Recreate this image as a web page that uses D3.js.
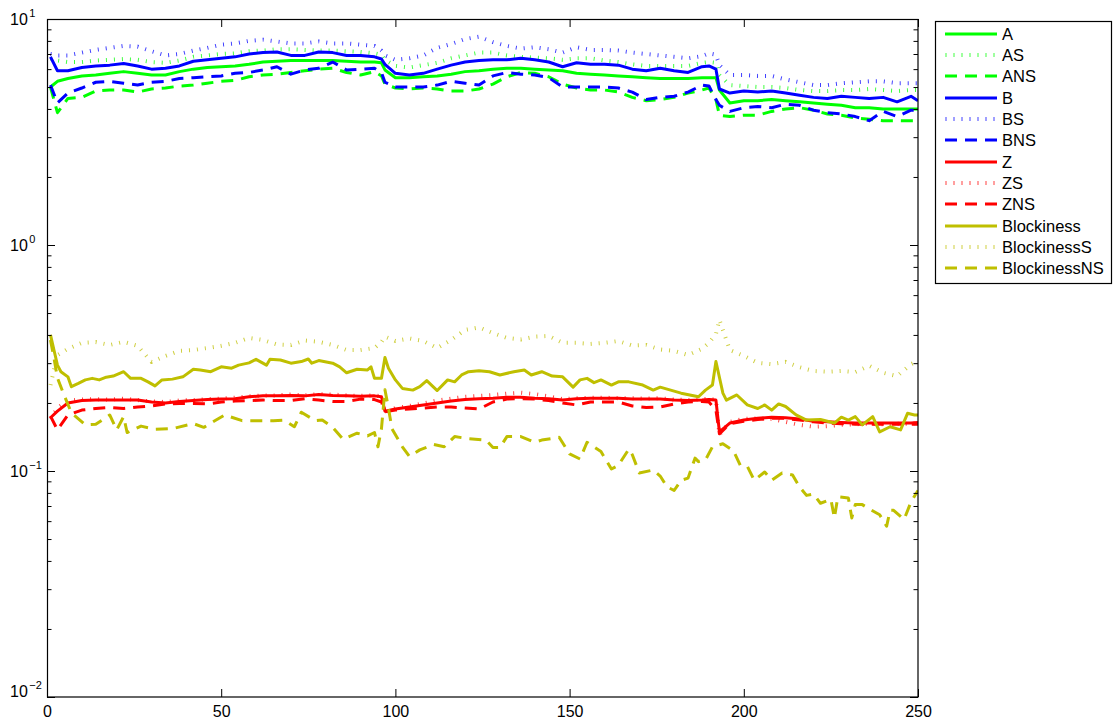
<!DOCTYPE html>
<html>
<head>
<meta charset="utf-8">
<script src="https://cdn.jsdelivr.net/npm/d3@7"></script>
<style>
  html, body { margin: 0; padding: 0; background: #fff; }
  svg { display: block; font-family: "Liberation Sans", Arial, Helvetica, sans-serif; }
</style>
</head>
<body>
<svg id="chart" width="1113" height="719"></svg>
<script>
// Frame indices shared by most measures
const frames = [1,3,6,10,14,18,22,26,30,34,38,42,46,50,54,58,62,66,70,74,78,82,86,90,94,
  96,97,
  100,104,108,112,116,120,124,128,132,136,140,144,148,152,156,160,164,168,172,176,180,184,188,
  190,192,193,
  196,200,204,208,212,216,220,224,228,232,236,240,244,248,
  250];

const A = [5.0,5.3,5.45,5.6,5.65,5.75,5.85,5.75,5.65,5.65,5.85,6.0,6.1,6.15,6.2,6.3,6.45,6.5,6.55,6.55,6.55,6.55,6.5,6.45,6.45,
  6.4,5.95,
  5.5,5.5,5.55,5.6,5.7,5.85,5.9,6.0,6.05,6.05,6.0,5.95,5.9,5.75,5.7,5.65,5.6,5.55,5.5,5.45,5.45,5.45,5.5,
  5.5,5.5,4.85,
  4.25,4.35,4.35,4.4,4.35,4.3,4.25,4.2,4.15,4.05,4.05,4.0,4.0,4.0,
  4.0];
const AS = [6.7,6.55,6.45,6.45,6.55,6.6,6.65,6.6,6.45,6.4,6.55,6.8,6.9,7.0,7.05,7.2,7.25,7.35,7.35,7.3,7.25,7.25,7.2,7.15,7.05,
  6.95,6.6,
  6.2,6.1,6.25,6.4,6.7,6.9,7.1,7.1,6.9,6.8,6.75,6.7,6.6,6.7,6.7,6.55,6.45,6.3,6.2,6.2,6.2,6.2,6.4,
  6.45,6.4,5.65,
  5.1,5.05,5.0,5.0,4.95,4.85,4.8,4.8,4.85,4.85,4.9,4.85,4.8,4.85,
  4.85];
const ANS = [5.0,3.85,4.45,4.5,4.8,4.85,4.85,4.75,4.9,4.95,5.05,5.1,5.2,5.3,5.35,5.55,5.65,5.7,5.8,5.9,6.0,6.05,5.8,5.65,5.85,
  5.6,5.15,
  4.95,4.9,4.95,4.9,4.8,4.8,4.9,5.15,5.55,5.8,5.75,5.55,5.15,4.95,4.85,4.85,4.75,4.5,4.35,4.4,4.5,4.7,4.85,
  4.95,4.4,3.75,
  3.7,3.75,3.75,3.9,4.0,4.05,3.95,3.8,3.75,3.65,3.6,3.55,3.55,3.55,
  3.55];
const B = [6.8,5.9,5.9,6.1,6.2,6.25,6.35,6.2,6.0,6.05,6.2,6.5,6.6,6.7,6.8,7.0,7.1,7.15,6.9,6.9,7.15,7.1,6.9,6.9,6.8,
  6.65,6.3,
  5.75,5.65,5.75,6.0,6.25,6.45,6.55,6.6,6.6,6.7,6.6,6.45,6.15,6.4,6.3,6.3,6.25,6.0,5.9,6.05,5.9,5.8,6.15,
  6.2,6.0,4.9,
  4.7,4.8,4.75,4.8,4.7,4.6,4.5,4.45,4.55,4.5,4.45,4.5,4.3,4.55,
  4.35];
const BS = [7.0,6.9,6.9,7.1,7.3,7.45,7.6,7.55,7.2,6.9,7.0,7.25,7.45,7.7,7.8,8.0,8.1,7.95,7.8,7.8,7.95,7.8,7.8,7.7,7.6,
  7.25,6.9,
  6.6,6.7,6.9,7.45,7.75,8.15,8.35,7.9,7.6,7.4,7.5,7.35,7.1,7.5,7.3,7.3,7.25,7.1,7.0,6.9,6.8,6.7,6.85,
  7.05,6.95,6.25,
  5.65,5.65,5.6,5.6,5.4,5.25,5.1,5.1,5.2,5.25,5.3,5.3,5.2,5.2,
  5.2];
const BNS = [5.1,4.25,4.7,4.95,5.25,5.3,5.2,5.1,5.25,5.3,5.45,5.5,5.55,5.6,5.75,5.8,5.95,6.15,5.7,5.95,6.05,6.45,5.95,6.0,6.05,
  5.8,5.25,
  5.0,5.0,5.0,5.1,5.3,5.2,5.1,5.6,5.8,5.7,5.65,5.5,5.0,5.0,5.0,5.0,4.95,4.75,4.4,4.5,4.55,4.75,5.1,
  5.05,4.4,4.15,
  3.9,4.05,4.1,4.05,4.2,4.15,3.95,3.85,3.8,3.7,3.55,3.9,3.7,3.95,
  3.95];
const Z = [0.172,0.184,0.200,0.205,0.206,0.206,0.206,0.206,0.202,0.200,0.203,0.205,0.207,0.208,0.209,0.213,0.215,0.215,0.216,0.215,0.218,0.216,0.215,0.214,0.215,
  0.213,0.184,
  0.188,0.192,0.196,0.200,0.204,0.207,0.209,0.210,0.212,0.212,0.210,0.209,0.206,0.209,0.210,0.210,0.210,0.208,0.208,0.208,0.206,0.205,0.206,
  0.207,0.206,0.149,
  0.163,0.168,0.171,0.173,0.172,0.170,0.166,0.165,0.164,0.163,0.163,0.163,0.163,0.163,
  0.164];
const ZS = [0.170,0.190,0.205,0.207,0.208,0.207,0.209,0.206,0.203,0.202,0.205,0.206,0.208,0.209,0.211,0.214,0.216,0.216,0.218,0.216,0.219,0.218,0.216,0.215,0.216,
  0.214,0.180,
  0.190,0.194,0.199,0.205,0.209,0.213,0.215,0.217,0.220,0.222,0.219,0.214,0.208,0.210,0.211,0.211,0.210,0.210,0.209,0.210,0.207,0.206,0.208,
  0.208,0.207,0.145,
  0.165,0.170,0.171,0.170,0.165,0.160,0.157,0.158,0.160,0.161,0.162,0.161,0.162,0.162,
  0.163];
const ZNS = [0.175,0.152,0.177,0.186,0.189,0.191,0.189,0.192,0.194,0.198,0.199,0.199,0.198,0.202,0.204,0.205,0.206,0.205,0.205,0.209,0.206,0.203,0.203,0.208,0.207,
  0.202,0.183,
  0.186,0.188,0.190,0.192,0.192,0.190,0.188,0.202,0.208,0.209,0.208,0.205,0.200,0.196,0.202,0.202,0.202,0.194,0.191,0.192,0.198,0.202,0.203,
  0.202,0.186,0.146,
  0.162,0.166,0.169,0.171,0.171,0.168,0.165,0.163,0.162,0.161,0.161,0.161,0.161,0.161,
  0.161];
const BlockinessS = [0.240,0.326,0.347,0.369,0.372,0.361,0.373,0.358,0.304,0.323,0.340,0.343,0.350,0.358,0.369,0.388,0.380,0.363,0.361,0.378,0.373,0.361,0.343,0.343,0.350,
  0.372,0.393,
  0.376,0.386,0.376,0.350,0.380,0.421,0.432,0.408,0.388,0.382,0.393,0.396,0.369,0.369,0.365,0.369,0.376,0.359,0.361,0.345,0.340,0.326,0.347,
  0.369,0.404,0.466,
  0.343,0.323,0.301,0.297,0.304,0.288,0.277,0.275,0.277,0.274,0.292,0.272,0.263,0.297,
  0.307];

// The blockiness measures are sampled more densely
const blockFrames = [1,2,3,4,6,7,9,11,13,15,
  17,19,22,24,27,29,31,33,36,39,
  42,44,47,50,53,55,58,60,63,64,
  67,70,73,75,76,78,82,84,86,89,
  92,93,94,96,97,98,100,102,105,107,
  109,112,115,117,119,121,124,127,130,134,
  137,139,142,145,148,151,153,155,157,159,
  162,164,167,171,174,176,179,182,187,189,
  191,192,194,195,198,201,204,206,208,210,
  212,215,218,222,226,228,230,232,234,237,
  239,242,245,247,249,250];
const Blockiness = [0.400,0.343,0.294,0.275,0.261,0.236,0.244,0.253,0.257,0.253,
  0.260,0.263,0.275,0.257,0.257,0.248,0.238,0.253,0.255,0.261,
  0.282,0.280,0.275,0.289,0.285,0.294,0.301,0.312,0.294,0.312,
  0.310,0.300,0.305,0.313,0.300,0.308,0.300,0.289,0.272,0.282,
  0.280,0.289,0.257,0.257,0.318,0.285,0.253,0.232,0.228,0.236,
  0.251,0.227,0.253,0.248,0.266,0.275,0.278,0.275,0.266,0.275,
  0.280,0.266,0.275,0.263,0.261,0.235,0.253,0.257,0.246,0.253,
  0.240,0.248,0.248,0.240,0.228,0.235,0.228,0.221,0.213,0.228,
  0.240,0.305,0.221,0.206,0.217,0.196,0.189,0.196,0.186,0.198,
  0.193,0.177,0.168,0.169,0.163,0.173,0.168,0.174,0.160,0.174,
  0.149,0.157,0.152,0.180,0.177,0.177];

const nsFrames = [1,2,3,5,7,11,14,18,20,22,
  23,27,31,36,42,45,51,56,60,65,
  68,71,73,77,79,82,85,89,92,94,
  95,96,97,98,99,102,104,107,111,114,
  117,121,126,128,130,132,136,140,142,147,
  150,153,155,159,162,164,167,168,170,174,
  176,178,180,182,184,186,187,189,191,194,
  197,199,201,203,206,208,211,214,216,218,
  220,222,225,226,227,230,231,232,234,236,
  239,241,242,243,246,248,250];
const BlockinessNS = [0.380,0.316,0.258,0.215,0.181,0.160,0.161,0.177,0.152,0.174,
  0.148,0.158,0.153,0.154,0.162,0.156,0.177,0.167,0.167,0.167,
  0.168,0.157,0.182,0.167,0.168,0.156,0.138,0.147,0.143,0.148,
  0.128,0.154,0.229,0.190,0.154,0.128,0.116,0.124,0.131,0.128,
  0.142,0.139,0.137,0.127,0.127,0.142,0.142,0.134,0.137,0.141,
  0.119,0.113,0.134,0.122,0.102,0.106,0.125,0.118,0.098,0.101,
  0.095,0.085,0.082,0.091,0.093,0.114,0.110,0.112,0.128,0.132,
  0.123,0.106,0.105,0.091,0.099,0.091,0.098,0.096,0.085,0.078,
  0.079,0.072,0.075,0.062,0.077,0.076,0.062,0.071,0.071,0.068,
  0.064,0.057,0.067,0.067,0.061,0.073,0.082];

const xTicks = [0, 50, 100, 150, 200, 250];
const yDecades = [0.01, 0.1, 1, 10];
const yExponents = [-2, -1, 0, 1];

// Series table: name, sample frames, values, colour and line style
const series = [
  { name: "A",            at: frames,      values: A,            color: "#00ff00", style: "solid"  },
  { name: "AS",           at: frames,      values: AS,           color: "#00ff00", style: "dotted" },
  { name: "ANS",          at: frames,      values: ANS,          color: "#00ff00", style: "dashed" },
  { name: "B",            at: frames,      values: B,            color: "#0000ff", style: "solid"  },
  { name: "BS",           at: frames,      values: BS,           color: "#0000ff", style: "dotted" },
  { name: "BNS",          at: frames,      values: BNS,          color: "#0000ff", style: "dashed" },
  { name: "Z",            at: frames,      values: Z,            color: "#ff0000", style: "solid"  },
  { name: "ZS",           at: frames,      values: ZS,           color: "#ff0000", style: "dotted" },
  { name: "ZNS",          at: frames,      values: ZNS,          color: "#ff0000", style: "dashed" },
  { name: "Blockiness",   at: blockFrames, values: Blockiness,   color: "#bfbf00", style: "solid"  },
  { name: "BlockinessS",  at: frames,      values: BlockinessS,  color: "#bfbf00", style: "dotted" },
  { name: "BlockinessNS", at: nsFrames,    values: BlockinessNS, color: "#bfbf00", style: "dashed" }
];

const lineStyles = {
  solid:  { width: 3,   dash: null,   opacity: 1 },
  dotted: { width: 4,   dash: "1 7",  opacity: 0.75 },
  dashed: { width: 3,   dash: "12 8", opacity: 1 }
};

// Plot geometry
const plot = { left: 47, right: 918, top: 19, bottom: 697 };
const svg = d3.select("#chart");

const x = d3.scaleLinear().domain([0, 250]).range([plot.left, plot.right]);
const y = d3.scaleLog().domain([0.01, 10]).range([plot.bottom, plot.top]);

// Minor log ticks (2..9 within each decade)
const yMinor = [];
yDecades.slice(0, -1).forEach(d => { for (let k = 2; k <= 9; k++) yMinor.push(d * k); });

svg.append("defs").append("clipPath").attr("id", "plotClip")
  .append("rect")
  .attr("x", plot.left).attr("y", plot.top)
  .attr("width", plot.right - plot.left).attr("height", plot.bottom - plot.top);

// Data lines
const linesG = svg.append("g").attr("clip-path", "url(#plotClip)");
series.forEach(s => {
  const st = lineStyles[s.style];
  const pts = s.values.map((v, i) => [s.at[i], v]);
  const line = d3.line().x(d => x(d[0])).y(d => y(d[1]));
  linesG.append("path")
    .datum(pts)
    .attr("d", line)
    .attr("fill", "none")
    .attr("stroke", s.color)
    .attr("stroke-width", st.width)
    .attr("stroke-opacity", st.opacity)
    .attr("stroke-linejoin", "round")
    .attr("stroke-dasharray", st.dash);
});

// Axes with inward ticks on all four sides
function cleanAxis(g) {
  g.select(".domain").remove();
  g.selectAll(".tick line").attr("stroke", "#000").attr("stroke-width", 1);
  g.attr("font-family", null).attr("font-size", null);
}

svg.append("g")
  .attr("transform", `translate(0,${plot.bottom})`)
  .call(d3.axisBottom(x).tickValues(xTicks).tickSize(-8).tickPadding(9).tickFormat(d3.format("d")))
  .call(cleanAxis)
  .selectAll("text").attr("fill", "#000").style("font-size", "16px");

svg.append("g")
  .attr("transform", `translate(0,${plot.top})`)
  .call(d3.axisTop(x).tickValues(xTicks).tickSize(-8).tickFormat(""))
  .call(cleanAxis);

[[d3.axisLeft, plot.left], [d3.axisRight, plot.right]].forEach(([axisFn, pos]) => {
  svg.append("g")
    .attr("transform", `translate(${pos},0)`)
    .call(axisFn(y).tickValues(yDecades).tickSize(-8).tickFormat(""))
    .call(cleanAxis);
  svg.append("g")
    .attr("transform", `translate(${pos},0)`)
    .call(axisFn(y).tickValues(yMinor).tickSize(-4.5).tickFormat(""))
    .call(cleanAxis);
});

// Power-of-ten labels on the y axis
yDecades.forEach((d, i) => {
  const ty = y(d) + (i === 0 ? 0 : 6);
  const t = svg.append("text")
    .attr("x", 10).attr("y", ty)
    .attr("font-size", 16).attr("fill", "#000");
  t.append("tspan").text("10");
  t.append("tspan")
    .attr("dy", -8).attr("dx", 1.5)
    .attr("font-size", 11)
    .text(String(yExponents[i]).replace("-", "\u2212"));
});

// Axes box
svg.append("rect")
  .attr("x", plot.left + 0.5).attr("y", plot.top + 0.5)
  .attr("width", plot.right - plot.left - 0.5).attr("height", plot.bottom - plot.top - 0.5)
  .attr("fill", "none").attr("stroke", "#000").attr("stroke-width", 1.2);

// Legend
const legend = { x: 935.5, y: 21.5, w: 176, h: 262, first: 33.5, step: 21.36 };
const lg = svg.append("g");
lg.append("rect")
  .attr("x", legend.x).attr("y", legend.y)
  .attr("width", legend.w).attr("height", legend.h)
  .attr("fill", "#fff").attr("stroke", "#000").attr("stroke-width", 1.2);

series.forEach((s, i) => {
  const cy = Math.round(legend.first + i * legend.step);
  const st = lineStyles[s.style];
  const dotted = s.style === "dotted";
  lg.append("line")
    .attr("x1", dotted ? 945.5 : 945).attr("x2", 997)
    .attr("y1", cy).attr("y2", cy)
    .attr("stroke", s.color)
    .attr("stroke-width", st.width)
    .attr("stroke-opacity", st.opacity)
    .attr("stroke-dasharray", st.dash);
  lg.append("text")
    .attr("x", 1002).attr("y", cy + 6)
    .attr("font-size", 16.5).attr("fill", "#000")
    .text(s.name);
});
</script>
</body>
</html>
